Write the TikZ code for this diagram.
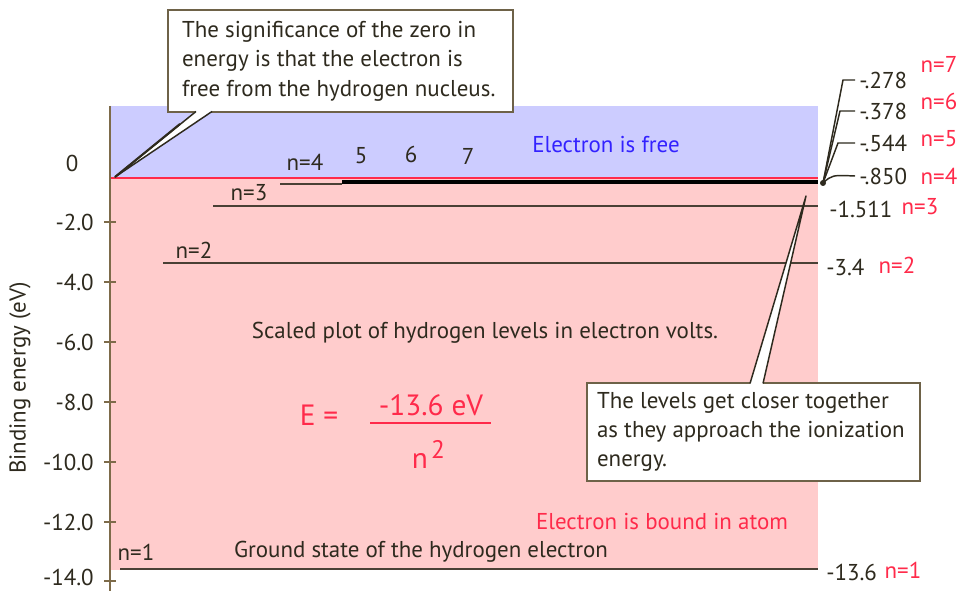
\documentclass[tikz,border=0pt]{standalone}
\usepackage{fontspec}
\setmainfont{PT Sans}
\definecolor{txt}{HTML}{2E2A1E}
\definecolor{axisc}{HTML}{7D6B4A}
\definecolor{freebg}{HTML}{CCCCFF}
\definecolor{boundbg}{HTML}{FFCCCC}
\definecolor{redt}{HTML}{FF2A4A}
\definecolor{bluet}{HTML}{3322FF}
\definecolor{boxc}{HTML}{6E6248}
\definecolor{levelc}{HTML}{4A4035}
\tikzset{
  lbl/.style={font=\fontsize{17.2}{22}\selectfont, text=txt, inner sep=0pt},
  redlbl/.style={lbl, text=redt},
  biglbl/.style={redlbl, font=\fontsize{22}{24}\selectfont},
  tick/.style={draw=axisc, line width=1.5pt},
  level/.style={draw=levelc, line width=1pt},
  leader/.style={draw=txt, line width=1.1pt},
  calloutbox/.style={draw=boxc, fill=white, line width=1.3pt, inner sep=0pt},
  callouttext/.style={lbl, align=left, anchor=west},
  pointer/.style={draw=txt, line width=1.1pt, line join=round}
}
\begin{document}
\begin{tikzpicture}[x=0.75pt,y=-0.75pt]
\useasboundingbox (0,0) rectangle (959,591);
\fill[white] (0,0) rectangle (959,591);
% regions
\fill[freebg] (110,106) rectangle (818,178);
\fill[boundbg] (110,178) rectangle (818,570);
\draw[redt, line width=1pt] (110,178) -- (818,178);
% axis
\draw[axisc, line width=1.5pt] (110,106) -- (110,591);
\foreach \yy/\tl in {222/-2.0, 282/-4.0, 342/-6.0, 402/-8.0, 462/-10.0, 522/-12.0}{
  \draw[tick] (104,\yy) -- (116,\yy);
  \node[lbl, anchor=east] at (94,\yy) {\tl};
}
\draw[tick] (104,581) -- (116,581);
\node[lbl, anchor=east] (m14) at (94,577) {-14.0};
\node[lbl] (zero) at (72,163) {0};
\node[lbl, rotate=90] (ylab) at (20,378) {Binding energy (eV)};
% levels
\draw[level] (120,569) -- (818,569);
\draw[level] (163,263) -- (818,263);
\draw[level] (213,206) -- (818,206);
\draw[level] (280,184) -- (342,184);
\draw[black, line width=2.6pt] (342,182) -- (818,182);
% level labels
\node[lbl] (n1) at (136,552) {n=1};
\node[lbl] (n2) at (194,250) {n=2};
\node[lbl] (n3) at (249,193) {n=3};
\node[lbl] (n4) at (305,162) {n=4};
\node[lbl] (n5) at (361,156) {5};
\node[lbl] (n6) at (411,154) {6};
\node[lbl] (n7) at (468,156) {7};
\node[lbl, text=bluet] (free) at (606,145) {Electron is free};
\node[redlbl] (bound) at (662,522) {Electron is bound in atom};
\node[lbl] (ground) at (421,552) {Ground state of the hydrogen electron};
\node[lbl] (scaled) at (485,333) {Scaled plot of hydrogen levels in electron volts.};
% formula
\node[biglbl] (E) at (319,415) {E =};
\node[biglbl] (num) at (431,405) {-13.6 eV};
\draw[redt, line width=0.8pt] (370,423) -- (491,423);
\node[biglbl] (den) at (420,461) {n};
\node[redlbl, font=\fontsize{19}{20}\selectfont] (sq) at (438,449) {2};
% right labels
\node[lbl, anchor=west] (v1) at (826,572) {-13.6};
\node[redlbl] (r1) at (903,570) {n=1};
\node[lbl, anchor=west] (v2) at (826,267) {-3.4};
\node[redlbl] (r2) at (897,265) {n=2};
\node[lbl, anchor=west] (v3) at (829,209) {-1.511};
\node[redlbl] (r3) at (920,207) {n=3};
\node[lbl, anchor=west] (v4) at (859,176) {-.850};
\node[redlbl] (r4) at (939,176) {n=4};
\node[lbl, anchor=west] (v5) at (859,143) {-.544};
\node[redlbl] (r5) at (939,139) {n=5};
\node[lbl, anchor=west] (v6) at (859,111) {-.378};
\node[redlbl] (r6) at (939,101) {n=6};
\node[lbl, anchor=west] (v7) at (859,80) {-.278};
\node[redlbl] (r7) at (939,64) {n=7};
\coordinate (hub) at (823,183);
\draw[leader] (hub) -- (843,80) -- ([xshift=-3pt]v7.west);
\draw[leader] (hub) -- (840,111) -- ([xshift=-3pt]v6.west);
\draw[leader] (hub) -- (838,143) -- ([xshift=-3pt]v5.west);
\draw[leader] (hub) .. controls (832,175) .. ([xshift=-3pt]v4.west);
\fill[txt] (hub) circle (3);
% callout 1
\node[calloutbox, minimum width=258.75pt, minimum height=76.5pt] (c1) at (340.5,61) {};
\node[callouttext] (t1) at ([xshift=11pt]c1.west)
  {The significance of the zero in\\energy is that the electron is\\free from the hydrogen nucleus.};
\coordinate (tip1) at (115,177);
\fill[white] (196,111) -- (tip1) -- (212,111) -- cycle;
\draw[pointer] (196,111.5) -- (tip1) -- (212,111.5);
\draw[txt, line width=1.6pt] (tip1) -- (180,124);
% callout 2
\node[calloutbox, minimum width=249.75pt, minimum height=73.5pt] (c2) at (753.5,432) {};
\node[callouttext] (t2) at ([xshift=8pt]c2.west)
  {The levels get closer together\\as they approach the ionization\\energy.};
\coordinate (tip2) at (806,196);
\fill[white] (750,384) -- (tip2) -- (763,384) -- cycle;
\draw[pointer] (750,383.5) -- (tip2) -- (763,383.5);
\end{tikzpicture}
\end{document}
